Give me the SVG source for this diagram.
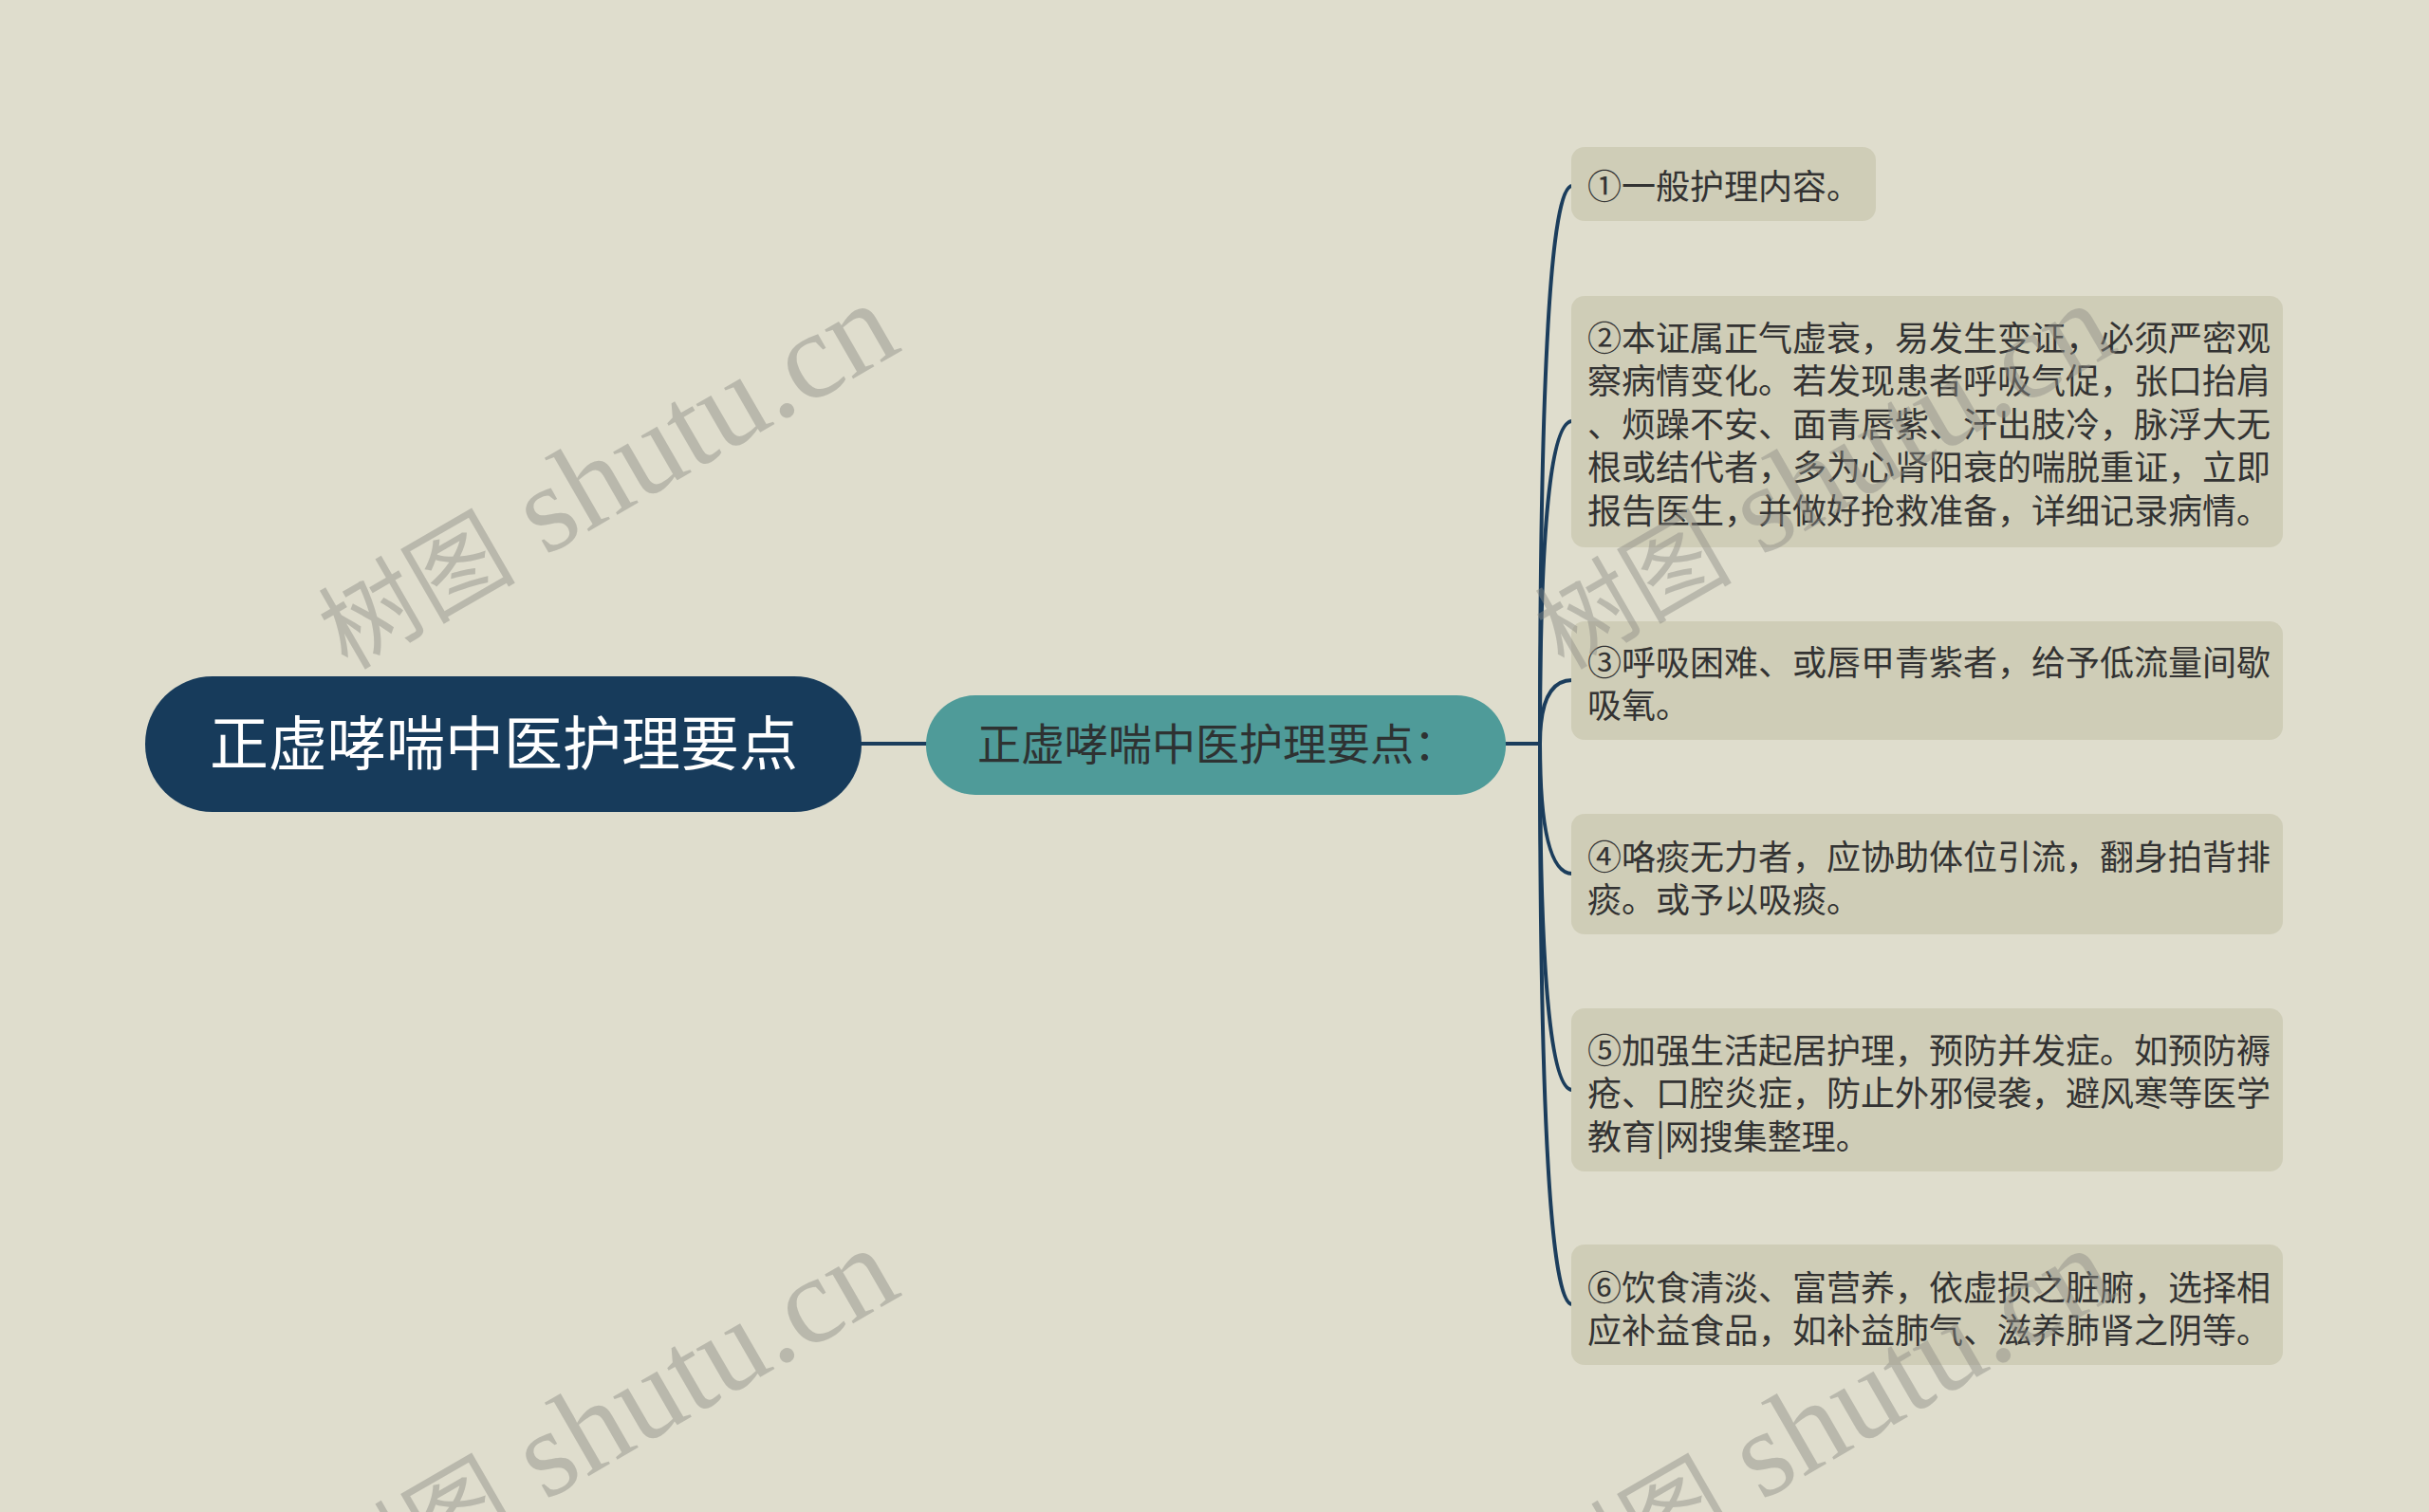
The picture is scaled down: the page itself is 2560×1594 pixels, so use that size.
<svg xmlns="http://www.w3.org/2000/svg" width="2560" height="1594" viewBox="0 0 2560 1594">
<style>
.wm{font-family:"Liberation Serif","Noto Sans CJK SC",serif;font-size:130px;fill:#8c8c86;fill-opacity:0.45}
.wmc{font-family:"Noto Sans CJK SC",serif;font-size:104px}
.box{fill:#cfcdb7}
.t{font-family:"Noto Sans CJK SC","Noto Sans",sans-serif;font-size:36px;fill:#333333}
.conn{fill:none;stroke:#1b3d5c;stroke-width:4;stroke-linecap:round}
</style>
<rect x="0" y="0" width="2560" height="1594" fill="#dfddcd"/>
<g id="connectors">
<path class="conn" d="M908 784 L976 784" stroke-width="5"/>
<path class="conn" d="M1587 784 L1623 784"/>
<path class="conn" d="M1623 784 Q1623 196 1657 196"/>
<path class="conn" d="M1623 784 Q1623 444 1657 444"/>
<path class="conn" d="M1623 784 Q1623 717 1657 717"/>
<path class="conn" d="M1623 784 Q1623 921 1657 921"/>
<path class="conn" d="M1623 784 Q1623 1149 1657 1149"/>
<path class="conn" d="M1623 784 Q1623 1375 1657 1375"/>
</g>
<g id="root">
<rect x="153" y="713" width="755" height="143" rx="71" fill="#173b5b"/>
<text x="531" y="807" text-anchor="middle" font-family="'Noto Sans CJK SC',sans-serif" font-size="62" fill="#ffffff">正虚哮喘中医护理要点</text>
</g>
<g id="center">
<rect x="976" y="733" width="611" height="105" rx="52" fill="#4f9b99"/>
<text x="1283" y="801" text-anchor="middle" font-family="'Noto Sans CJK SC',sans-serif" font-size="46" fill="#2e3232">正虚哮喘中医护理要点：</text>
</g>
<g id="n1">
<rect class="box" x="1656" y="155" width="321" height="78" rx="14"/>
<text class="t" x="1673" y="210">①一般护理内容。</text>
</g>
<g id="n2">
<rect class="box" x="1656" y="312" width="750" height="265" rx="14"/>
<text class="t" x="1673" y="370">②本证属正气虚衰，易发生变证，必须严密观</text>
<text class="t" x="1673" y="415">察病情变化。若发现患者呼吸气促，张口抬肩</text>
<text class="t" x="1673" y="461">、烦躁不安、面青唇紫、汗出肢冷，脉浮大无</text>
<text class="t" x="1673" y="506">根或结代者，多为心肾阳衰的喘脱重证，立即</text>
<text class="t" x="1673" y="552">报告医生，并做好抢救准备，详细记录病情。</text>
</g>
<g id="n3">
<rect class="box" x="1656" y="655" width="750" height="125" rx="14"/>
<text class="t" x="1673" y="712">③呼吸困难、或唇甲青紫者，给予低流量间歇</text>
<text class="t" x="1673" y="757">吸氧。</text>
</g>
<g id="n4">
<rect class="box" x="1656" y="858" width="750" height="127" rx="14"/>
<text class="t" x="1673" y="917">④咯痰无力者，应协助体位引流，翻身拍背排</text>
<text class="t" x="1673" y="962">痰。或予以吸痰。</text>
</g>
<g id="n5">
<rect class="box" x="1656" y="1063" width="750" height="172" rx="14"/>
<text class="t" x="1673" y="1121">⑤加强生活起居护理，预防并发症。如预防褥</text>
<text class="t" x="1673" y="1166">疮、口腔炎症，防止外邪侵袭，避风寒等医学</text>
<text class="t" x="1673" y="1212">教育|网搜集整理。</text>
</g>
<g id="n6">
<rect class="box" x="1656" y="1312" width="750" height="127" rx="14"/>
<text class="t" x="1673" y="1371">⑥饮食清淡、富营养，依虚损之脏腑，选择相</text>
<text class="t" x="1673" y="1416">应补益食品，如补益肺气、滋养肺肾之阴等。</text>
</g>
<g id="watermarks">
<text class="wm" transform="translate(366,707) rotate(-30)"><tspan class="wmc">树图</tspan> shutu.cn</text>
<text class="wm" transform="translate(1648,707) rotate(-30)"><tspan class="wmc">树图</tspan> shutu.cn</text>
<text class="wm" transform="translate(366,1703) rotate(-30)"><tspan class="wmc">树图</tspan> shutu.cn</text>
<text class="wm" transform="translate(1648,1703) rotate(-30)"><tspan class="wmc">树图</tspan> shutu.cn</text>
</g>
</svg>
